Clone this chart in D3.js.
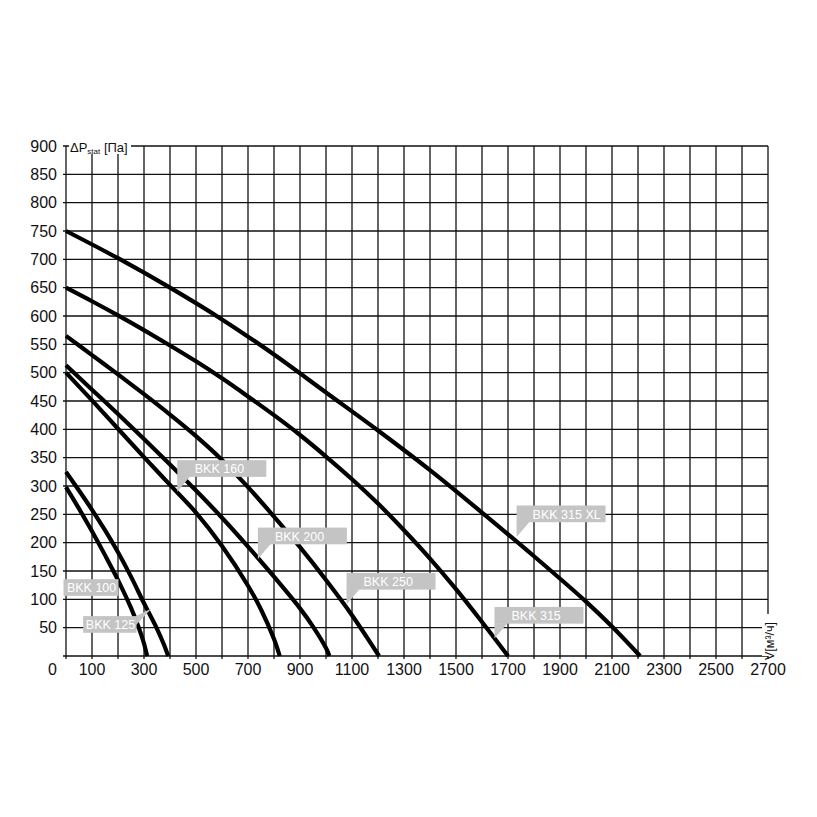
<!DOCTYPE html>
<html><head><meta charset="utf-8">
<script src="https://cdn.jsdelivr.net/npm/d3@7"></script>
<style>body{margin:0;background:#fff}svg{display:block}</style>
</head><body><svg id="c" width="817" height="817"></svg>
<script>
// ---- data ----
const flowTicks = [100,300,500,700,900,1100,1300,1500,1700,1900,2100,2300,2500,2700];
const flowGrid = d3.range(0, 2701, 100);
const pressureTicks = [50,100,150,200,250,300,350,400,450,500,550,600,650,700,750,800,850,900];
const seriesNames = ["BKK 100","BKK 125","BKK 160","BKK 200","BKK 250","BKK 315","BKK 315 XL"];
const bkk100 = [[0,298],[50,260],[100,220],[150,178],[200,134],[250,85],[280,50],[300,22],[312,0]];
const bkk125 = [[0,325],[50,292],[100,258],[150,222],[200,183],[250,140],[300,93],[350,48],[375,22],[393,0]];
const bkk160 = [[0,500],[100,451],[200,401],[300,351],[400,302],[500,253],[600,194],[700,124],[750,82],[800,30],[822,0]];
const bkk200 = [[0,513],[100,470],[200,427],[300,383],[400,338],[500,292],[600,244],[700,193],[800,140],[900,84],[950,52],[1000,14],[1013,0]];
const bkk250 = [[0,565],[100,531],[200,497],[300,462],[400,426],[500,388],[600,346],[700,298],[800,246],[900,192],[1000,134],[1100,72],[1150,38],[1204,0]];
const bkk315 = [[0,650],[100,626],[200,601],[300,575],[400,548],[500,520],[600,490],[700,458],[800,425],[900,390],[1000,352],[1100,312],[1200,269],[1300,222],[1400,172],[1500,118],[1600,60],[1700,0]];
const bkk315xl = [[0,750],[200,702],[400,650],[600,594],[800,532],[1000,465],[1200,398],[1400,328],[1600,253],[1800,176],[2000,96],[2100,52],[2208,0]];
const seriesData = [bkk100,bkk125,bkk160,bkk200,bkk250,bkk315,bkk315xl];
// label pointer tips in data units [flow, pressure]
const labelTips = [[220,122],[329,84],[428,290],[738,171],[1079,91],[1648,31],[1733,210]];

// ---- layout ----
const svg = d3.select("#c");
const FONT = "'Liberation Sans', Arial, sans-serif";
const x = d3.scaleLinear().domain([0,2700]).range([66,768]);
const y = d3.scaleLinear().domain([0,900]).range([656,146]);
const labelLayout = [
  {dx:-59.7, dy:-7.7, w:55, pad:3.4, ptr:"none"},
  {dx:-68.4, dy:7.7, w:53.4, pad:2.7, ptr:"right"},
  {dx:0, dy:-31.5, w:89, pad:17.5, ptr:"down"},
  {dx:0, dy:-31.5, w:89, pad:17, ptr:"down"},
  {dx:0, dy:-31.5, w:89, pad:17, ptr:"down"},
  {dx:0, dy:-31.5, w:89, pad:17, ptr:"down"},
  {dx:0, dy:-31.5, w:89, pad:16, ptr:"down"}
];
const boxH = 16.7;

// grid
const g = svg.append("g");
g.selectAll("line.v").data(flowGrid).join("line")
  .attr("x1", d=>x(d)).attr("x2", d=>x(d))
  .attr("y1", y(900)).attr("y2", y(0)+3)
  .attr("stroke","#111").attr("stroke-width",1.3);
g.selectAll("line.h").data([0].concat(pressureTicks)).join("line")
  .attr("x1", x(0)-3).attr("x2", x(2700))
  .attr("y1", d=>y(d)).attr("y2", d=>y(d))
  .attr("stroke","#111").attr("stroke-width",1.3);

// tick labels
svg.append("g").selectAll("text").data(pressureTicks).join("text")
  .attr("x", 57).attr("y", d=>y(d)).attr("dy","0.36em")
  .attr("text-anchor","end").attr("font-family",FONT).attr("font-size",16).attr("fill","#111")
  .text(d=>d);
svg.append("g").selectAll("text").data(flowTicks).join("text")
  .attr("x", d=>x(d)).attr("y", 675)
  .attr("text-anchor","middle").attr("font-family",FONT).attr("font-size",16).attr("fill","#111")
  .text(d=>d);
svg.append("text").attr("x",57).attr("y",675).attr("text-anchor","end")
  .attr("font-family",FONT).attr("font-size",16).attr("fill","#111").text("0");

// axis titles
svg.append("rect").attr("x",69).attr("y",139).attr("width",62).attr("height",15).attr("fill","#fff");
const t = svg.append("text").attr("x",70).attr("y",151.5).attr("font-family",FONT).attr("fill","#111");
t.append("tspan").attr("font-size",13).text("ΔP");
t.append("tspan").attr("font-size",8).attr("dy",2).attr("fill","#111").text("stat");
t.append("tspan").attr("font-size",13).attr("dy",-2).text(" [Па]");

svg.append("rect").attr("x",762).attr("y",614).attr("width",15).attr("height",42).attr("fill","#fff");
svg.append("text").attr("transform","translate(774,660) rotate(-90)")
  .attr("font-family",FONT).attr("font-size",12.5).attr("fill","#111").text("V[м³/ч]");

// curves
const line = d3.line().x(d=>x(d[0])).y(d=>y(d[1])).curve(d3.curveCatmullRom.alpha(0.5));
svg.append("g").selectAll("path").data(seriesData).join("path")
  .attr("d", line).attr("fill","none").attr("stroke","#000").attr("stroke-width",4.2);

// labels
const lg = svg.append("g");
seriesNames.forEach((name,i)=>{
  const tx = x(labelTips[i][0]), ty = y(labelTips[i][1]);
  const L = labelLayout[i];
  const bx = tx + L.dx, by = ty + L.dy;
  const fill = "#c4c4c4";
  if (L.ptr === "down") {
    lg.append("path").attr("d", `M${bx},${by+boxH-0.5}L${bx+13},${by+boxH-0.5}L${tx},${ty}Z`).attr("fill",fill);
  } else if (L.ptr === "right") {
    lg.append("path").attr("d", `M${bx+L.w-0.5},${by}L${bx+L.w-0.5},${by+9}L${tx},${ty}Z`).attr("fill",fill);
  }
  lg.append("rect").attr("x",bx).attr("y",by).attr("width",L.w).attr("height",boxH).attr("fill",fill);
  lg.append("text").attr("x",bx+L.pad).attr("y",by+13.2)
    .attr("font-family",FONT).attr("font-size",12.5).attr("fill","#fff").text(name);
});
</script></body></html>
